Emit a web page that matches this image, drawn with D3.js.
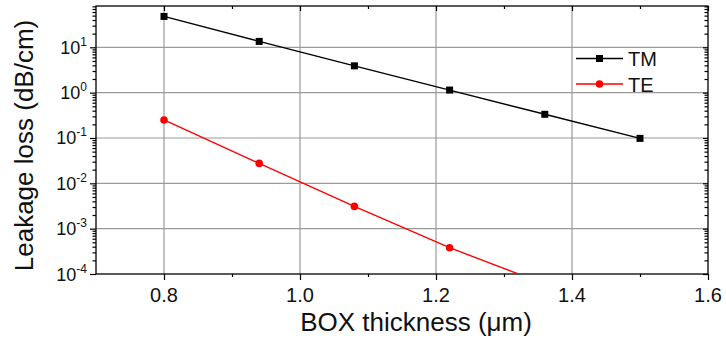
<!DOCTYPE html>
<html>
<head>
<meta charset="utf-8">
<script src="https://cdn.jsdelivr.net/npm/d3@7"></script>
<style>
  html, body { margin: 0; padding: 0; background: #fff; }
  svg { display: block; font-family: "Liberation Sans", Arial, sans-serif; }
</style>
</head>
<body>
<svg id="chart" width="726" height="345"></svg>
<script>
// BOX thickness (µm) sample points
const thickness = [0.8, 0.94, 1.08, 1.22, 1.36, 1.5];
// Leakage loss in dB/cm for each polarisation
const lossTM = [48, 13.5, 3.9, 1.14, 0.333, 0.098];
const lossTE = [0.25, 0.0275, 0.0031, 0.00038, 0.00006];
// Axis ticks
const xMajorTicks = [0.8, 1.0, 1.2, 1.4, 1.6];
const xMinorTicks = [0.9, 1.1, 1.3, 1.5];
const yMajorTicks = [1e-4, 1e-3, 1e-2, 1e-1, 1e0, 1e1];
const yExponents = ["-4", "-3", "-2", "-1", "0", "1"];

const svg = d3.select("#chart");
const L = 96, R = 708, T = 6, B = 274;

const x = d3.scaleLinear().domain([0.7, 1.6]).range([L, R]);
const y = d3.scaleLog().domain([1e-4, 81.5]).range([B, T]);

// log minor ticks (2..9 per decade) inside the domain
const yMinorTicks = y.ticks().filter(v => {
  const m = v / Math.pow(10, Math.floor(Math.log10(v) + 1e-9));
  return Math.abs(m - 1) > 1e-6 && v <= 81.5 && v >= 1e-4;
});

svg.append("defs").append("clipPath").attr("id", "plot-clip")
  .append("rect").attr("x", L).attr("y", T).attr("width", R - L).attr("height", B - T);

// grid
const grid = svg.append("g").attr("stroke", "#9a9a9a").attr("stroke-width", 1.2);
grid.selectAll("line.gx").data(xMajorTicks.filter(v => v < 1.6)).join("line")
  .attr("x1", d => x(d)).attr("x2", d => x(d)).attr("y1", T).attr("y2", B);
grid.selectAll("line.gy").data(yMajorTicks.filter(v => v > 1e-4)).join("line")
  .attr("class", "gy")
  .attr("y1", d => y(d)).attr("y2", d => y(d)).attr("x1", L).attr("x2", R);

// axes: outward ticks on bottom/left, inward on top/right
function styleAxis(g) {
  g.select(".domain").remove();
  g.selectAll("line").attr("stroke", "#000").attr("stroke-width", 1.2);
}
svg.append("g").attr("transform", `translate(0,${B})`)
  .call(d3.axisBottom(x).tickValues(xMajorTicks).tickSize(6).tickFormat(""))
  .call(styleAxis);
svg.append("g").attr("transform", `translate(0,${B})`)
  .call(d3.axisBottom(x).tickValues(xMinorTicks).tickSize(3).tickFormat(""))
  .call(styleAxis);
svg.append("g").attr("transform", `translate(0,${T})`)
  .call(d3.axisBottom(x).tickValues(xMajorTicks).tickSize(5).tickFormat(""))
  .call(styleAxis);
svg.append("g").attr("transform", `translate(0,${T})`)
  .call(d3.axisBottom(x).tickValues(xMinorTicks).tickSize(3).tickFormat(""))
  .call(styleAxis);
svg.append("g").attr("transform", `translate(${L},0)`)
  .call(d3.axisLeft(y).tickValues(yMajorTicks).tickSize(6).tickFormat(""))
  .call(styleAxis);
svg.append("g").attr("transform", `translate(${L},0)`)
  .call(d3.axisLeft(y).tickValues(yMinorTicks).tickSize(3.5).tickFormat(""))
  .call(styleAxis);
svg.append("g").attr("transform", `translate(${R},0)`)
  .call(d3.axisLeft(y).tickValues(yMajorTicks).tickSize(5).tickFormat(""))
  .call(styleAxis);
svg.append("g").attr("transform", `translate(${R},0)`)
  .call(d3.axisLeft(y).tickValues(yMinorTicks).tickSize(3.5).tickFormat(""))
  .call(styleAxis);

// frame
svg.append("rect").attr("x", L).attr("y", T).attr("width", R - L).attr("height", B - T)
  .attr("fill", "none").attr("stroke", "#000").attr("stroke-width", 1.3);

// tick labels
svg.append("g").selectAll("text").data(xMajorTicks).join("text")
  .attr("x", d => x(d)).attr("y", 301.5).attr("text-anchor", "middle")
  .attr("font-size", 20).attr("fill", "#111")
  .text(d => d.toFixed(1));

const yl = svg.append("g").selectAll("text").data(yMajorTicks).join("text")
  .attr("x", 87).attr("y", d => y(d) + 6.5).attr("text-anchor", "end")
  .attr("font-size", 18).attr("fill", "#111");
yl.append("tspan").text("10");
yl.append("tspan").attr("font-size", 12).attr("dy", -8).text((d, i) => yExponents[i]);

// axis titles
svg.append("text").attr("x", 416).attr("y", 331).attr("text-anchor", "middle")
  .attr("font-size", 26).attr("fill", "#111").text("BOX thickness (\u03bcm)");
svg.append("text").attr("transform", "translate(33,145.5) rotate(-90)")
  .attr("text-anchor", "middle").attr("font-size", 26).attr("fill", "#111")
  .text("Leakage loss (dB/cm)");

// series
const line = d3.line().x(d => x(d[0])).y(d => y(d[1]));
const tm = thickness.map((t, i) => [t, lossTM[i]]).filter(d => d[1] !== undefined);
const te = thickness.map((t, i) => [t, lossTE[i]]).filter(d => d[1] !== undefined);

const plot = svg.append("g").attr("clip-path", "url(#plot-clip)");
plot.append("path").datum(tm).attr("d", line)
  .attr("fill", "none").attr("stroke", "#000").attr("stroke-width", 1.4);
plot.append("path").datum(te).attr("d", line)
  .attr("fill", "none").attr("stroke", "#ff0000").attr("stroke-width", 1.4);

plot.selectAll("rect.tm").data(tm).join("rect").attr("class", "tm")
  .attr("x", d => x(d[0]) - 3.5).attr("y", d => y(d[1]) - 3.5)
  .attr("width", 7).attr("height", 7).attr("fill", "#000");
plot.selectAll("circle.te").data(te).join("circle").attr("class", "te")
  .attr("cx", d => x(d[0])).attr("cy", d => y(d[1])).attr("r", 3.8)
  .attr("fill", "#ff0000");

// legend
const legend = svg.append("g");
const items = [
  { name: "TM", color: "#000", shape: "square", y: 58.5 },
  { name: "TE", color: "#ff0000", shape: "circle", y: 84 }
];
items.forEach(it => {
  legend.append("line").attr("x1", 576).attr("x2", 623).attr("y1", it.y).attr("y2", it.y)
    .attr("stroke", it.color).attr("stroke-width", 1.4);
  if (it.shape === "square") {
    legend.append("rect").attr("x", 599.5 - 3.5).attr("y", it.y - 3.5)
      .attr("width", 7).attr("height", 7).attr("fill", it.color);
  } else {
    legend.append("circle").attr("cx", 599.5).attr("cy", it.y).attr("r", 3.8).attr("fill", it.color);
  }
  legend.append("text").attr("x", 628).attr("y", it.y + 7.5).attr("font-size", 20)
    .attr("fill", "#111").text(it.name);
});
</script>
</body>
</html>
